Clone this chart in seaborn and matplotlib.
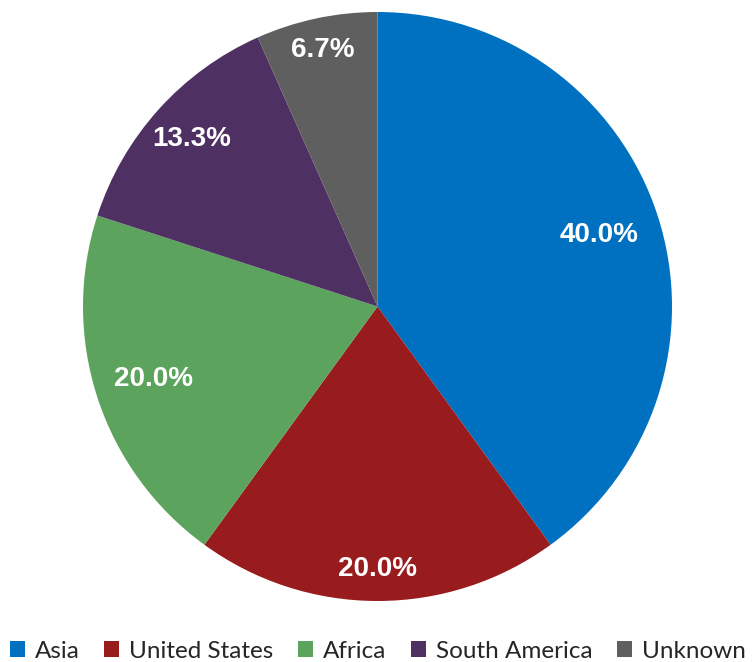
import matplotlib
matplotlib.use("Agg")
import matplotlib.pyplot as plt
import seaborn as sns
import numpy as np
from matplotlib.patches import Patch

sns.set_theme(style="white")

categories = ["Asia", "United States", "Africa", "South America", "Unknown"]
values = [6, 3, 3, 2, 1]
colors = ["#0070C0", "#981B1E", "#5CA35E", "#4E3162", "#5F5F60"]
label_radius = [0.79, 0.89, 0.80, 0.85, 0.89]

fig = plt.figure(figsize=(7.55, 6.62), dpi=100)
ax = fig.add_axes([83/755, 61/662, 589/755, 589/662])

wedges, texts, autotexts = ax.pie(
    values, colors=colors, startangle=90, counterclock=False,
    autopct="%.1f%%", pctdistance=0.85,
    wedgeprops=dict(linewidth=0),
    textprops=dict(color="white", fontsize=20, fontweight="bold",
                   family=["Liberation Sans", "DejaVu Sans"]),
)
for w, t, r in zip(wedges, autotexts, label_radius):
    ang = np.deg2rad((w.theta1 + w.theta2) / 2)
    t.set_position((r * np.cos(ang), r * np.sin(ang)))
ax.set_aspect("equal")
ax.set_xlim(-1, 1)
ax.set_ylim(-1, 1)
ax.axis("off")

handles = [Patch(facecolor=c, edgecolor="none") for c in colors]
fig.legend(handles, categories, loc="lower left", bbox_to_anchor=(0.0, -0.014),
           ncol=5, frameon=False, handlelength=0.62, handleheight=0.62,
           handletextpad=0.4, columnspacing=1.02, borderaxespad=0,
           prop=dict(family=["Lato", "DejaVu Sans"], size=17.5))

fig.savefig("out.png", dpi=100)
